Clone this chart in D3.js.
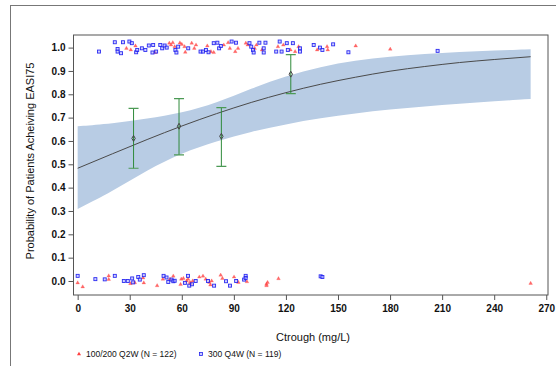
<!DOCTYPE html>
<html>
<head>
<meta charset="utf-8">
<script src="https://cdn.jsdelivr.net/npm/d3@7"></script>
<style>
  body { margin: 0; background: #fff; }
  text { font-family: "Liberation Sans", Arial, sans-serif; fill: #111; }
</style>
</head>
<body>
<div id="chart"></div>
<script>
const width = 556, height = 366;

// model prediction and 95% band (Ctrough grid)
const gridX = [0, 20, 40, 60, 80, 100, 120, 140, 160, 180, 200, 220, 240, 261];
const predP = [0.483, 0.545, 0.606, 0.664, 0.717, 0.765, 0.807, 0.843, 0.873, 0.899, 0.919, 0.936, 0.949, 0.961];
const bandLo = [0.309, 0.384, 0.475, 0.549, 0.599, 0.640, 0.672, 0.698, 0.718, 0.735, 0.748, 0.760, 0.770, 0.780];
const bandHi = [0.663, 0.675, 0.695, 0.720, 0.762, 0.825, 0.878, 0.918, 0.945, 0.962, 0.973, 0.981, 0.988, 0.993];

// observed proportions by quartile
const binX = [32.2, 58.4, 82.8, 122.8];
const binMean = [0.611, 0.663, 0.620, 0.886];
const binLo = [0.483, 0.540, 0.491, 0.803];
const binHi = [0.740, 0.781, 0.743, 0.970];

// individual responders / non-responders (jittered)
const q2wX = [28.1, 30.6, 33.3, 44.6, 52.8, 53.8, 54.8, 55.9, 58.9, 60, 61.6, 62, 65.7, 67.2, 68.2, 74.7, 76.8, 78.4,
  84.2, 86.7, 87.7, 90.8, 92.4, 96.9, 98, 102, 103, 106.2, 115.4, 118.5, 122.6, 125.3, 127.3, 138, 143.7, 144.1, 160.2, 180.1,
  0, 2.9, 17.9, 17.9, 30.4, 32.9, 37.7, 38.1, 45.8, 49.1, 53.2, 55.1, 59.3, 59.7, 60.9, 62.8, 63.6, 65.1, 64.7, 66.3,
  70.1, 72.2, 73.8, 75.9, 76.5, 77.2, 82.4, 83.4, 90.1, 92.6, 97.5, 108.8, 108.8, 109.4, 115.7, 261];
const q2wY = [0.997, 0.99, 1.007, 0.979, 1.019, 1.011, 1.021, 1.004, 1.02, 1.014, 1.004, 0.98, 1.019, 0.997, 1.011, 1.007, 0.983, 0.979,
  1.011, 1.021, 0.997, 0.983, 0.997, 1.019, 1.011, 0.997, 1.011, 0.99, 1.004, 1.011, 0.99, 0.983, 1.004, 0.99, 1.004, 0.99, 1.007, 0.993,
  -0.008, -0.025, 0.022, 0.007, -0.011, -0.007, 0.013, -0.008, -0.02, 0.008, 0.008, 0.021, -0.015, 0.008, 0.011, 0, 0.008, -0.011, -0.006, 0,
  0.017, 0.021, 0.008, -0.006, -0.017, 0, 0.025, 0.011, 0.017, -0.006, -0.003, -0.014, -0.02, -0.006, 0.01, -0.01];
const q4wX = [12.3, 21.4, 26.1, 23, 23, 25, 29.8, 31.2, 33.7, 34.3, 37, 39, 41, 43.5, 43.1, 45.2, 47.6, 48.7, 50.1, 51.3,
  56.3, 56.9, 57.9, 63.7, 70.8, 72.3, 73.9, 75.4, 78.4, 80.5, 81.5, 82.5, 88.7, 91.2, 99, 100, 101, 101.4, 104.7, 107.2,
  108.2, 107.2, 114.4, 116.4, 117.5, 120.5, 121.1, 124, 128.1, 128.1, 136, 139.6, 141, 147.2, 156, 207.4,
  0, 10.2, 15.6, 21.4, 26.6, 28.9, 31.4, 32, 34.9, 35.8, 38.1, 49.5, 51.2, 52.2, 54.1, 55.1, 55.9, 61.8, 63.6, 64.3,
  65.9, 68, 75.1, 78.6, 85.5, 87.8, 91.3, 95.9, 96.8, 96.8, 140, 141];
const q4wY = [0.983, 1.023, 1.023, 0.994, 0.983, 0.976, 1.026, 1.019, 0.98, 0.99, 0.997, 0.99, 1.009, 1.011, 0.979, 0.983, 1.011, 0.997, 1.009, 1.0,
  0.99, 0.979, 1.004, 0.997, 0.983, 0.983, 0.99, 0.98, 1.019, 1.021, 0.997, 1.007, 1.026, 1.021, 1.019, 1.004, 0.99, 0.979, 1.021, 0.997,
  1.021, 0.979, 0.983, 1.026, 0.983, 1.019, 0.99, 1.019, 0.997, 0.983, 1.011, 1.0, 0.99, 1.014, 0.98, 0.986,
  0.022, 0.008, 0.007, 0.022, 0, 0, 0.011, -0.006, 0.017, 0.006, 0.025, 0.022, 0.015, -0.004, 0.006, -0.001, 0.001, -0.008, 0.022, -0.02,
  -0.014, 0, 0, -0.02, -0.001, -0.02, 0, 0.006, 0.022, 0.013, 0.02, 0.017];

const xTicks = [0, 30, 60, 90, 120, 150, 180, 210, 240, 270];
const yTicks = [0, 0.1, 0.2, 0.3, 0.4, 0.5, 0.6, 0.7, 0.8, 0.9, 1.0];
const legendLabels = ["100/200 Q2W (N = 122)", "300 Q4W (N = 119)"];

const plot = { left: 73.5, right: 548, top: 35, bottom: 295 };

let svg = d3.select("#chart").append("svg")
  .attr("width", width)
  .attr("height", height);

// outer frame
svg.append("rect")
  .attr("x", 10.5).attr("y", 5.5)
  .attr("width", 560).attr("height", 380)
  .attr("fill", "none").attr("stroke", "#777").attr("stroke-width", 1);

let x = d3.scaleLinear().domain([-2.4, 271]).range([plot.left, plot.right]);
let y = d3.scaleLinear().domain([-0.06, 1.054]).range([plot.bottom, plot.top]);

svg.append("clipPath").attr("id", "clip")
  .append("rect")
  .attr("x", plot.left).attr("y", plot.top)
  .attr("width", plot.right - plot.left).attr("height", plot.bottom - plot.top);

let g = svg.append("g").attr("clip-path", "url(#clip)");

// confidence band
let grid = gridX.map((d, i) => ({ x: d, p: predP[i], lo: bandLo[i], hi: bandHi[i] }));
g.append("path")
  .datum(grid)
  .attr("fill", "#b8cce4")
  .attr("d", d3.area().curve(d3.curveBasis)
    .x(d => x(d.x)).y0(d => y(d.lo)).y1(d => y(d.hi)));

g.append("path")
  .datum(grid)
  .attr("fill", "none")
  .attr("stroke", "#4a4a4a")
  .attr("stroke-width", 1)
  .attr("d", d3.line().curve(d3.curveMonotoneX).x(d => x(d.x)).y(d => y(d.p)));

// error bars
let bins = binX.map((d, i) => ({ x: d, m: binMean[i], lo: binLo[i], hi: binHi[i] }));
let eb = g.selectAll(".eb").data(bins).enter().append("g");
eb.append("line")
  .attr("x1", d => x(d.x)).attr("x2", d => x(d.x))
  .attr("y1", d => y(d.lo)).attr("y2", d => y(d.hi))
  .attr("stroke", "#2f8a3a").attr("stroke-width", 1);
eb.selectAll(".cap").data(d => [[d.x, d.lo], [d.x, d.hi]]).enter().append("line")
  .attr("x1", d => x(d[0]) - 5).attr("x2", d => x(d[0]) + 5)
  .attr("y1", d => y(d[1])).attr("y2", d => y(d[1]))
  .attr("stroke", "#4c9a55").attr("stroke-width", 1.2);
eb.append("path")
  .attr("d", d3.symbol().type(d3.symbolDiamond).size(10))
  .attr("transform", d => `translate(${x(d.x)},${y(d.m)})`)
  .attr("fill", "none").attr("stroke", "#444").attr("stroke-width", 1);

// observed points
g.selectAll(".q2w").data(q2wX).enter().append("path")
  .attr("d", d3.symbol().type(d3.symbolTriangle).size(6))
  .attr("transform", (d, i) => `translate(${x(d)},${y(q2wY[i])})`)
  .attr("fill", "#ff5050").attr("fill-opacity", 0.85)
  .attr("stroke", "#ff3030").attr("stroke-opacity", 0.4).attr("stroke-width", 0.5);

g.selectAll(".q4w").data(q4wX).enter().append("rect")
  .attr("x", d => x(d) - 1.5).attr("y", (d, i) => y(q4wY[i]) - 1.5)
  .attr("width", 3).attr("height", 3)
  .attr("fill", "#b0b0ff").attr("fill-opacity", 0.6)
  .attr("stroke", "#1a1af0").attr("stroke-opacity", 0.9).attr("stroke-width", 0.9);

// plot frame
svg.append("rect")
  .attr("x", plot.left).attr("y", plot.top)
  .attr("width", plot.right - plot.left).attr("height", plot.bottom - plot.top)
  .attr("fill", "none").attr("stroke", "#555").attr("stroke-width", 1);

// axes
let xAxis = svg.append("g")
  .attr("transform", `translate(0,${plot.bottom})`)
  .call(d3.axisBottom(x).tickValues(xTicks).tickSize(5).tickPadding(5).tickFormat(d3.format("d")));
let yAxis = svg.append("g")
  .attr("transform", `translate(${plot.left},0)`)
  .call(d3.axisLeft(y).tickValues(yTicks).tickSize(5).tickPadding(3).tickFormat(d3.format(".1f")));
[xAxis, yAxis].forEach(a => {
  a.select(".domain").remove();
  a.selectAll(".tick line").attr("stroke", "#555");
  a.selectAll(".tick text")
    .style("font-family", "'Liberation Sans', Arial, sans-serif")
    .style("font-size", "10px").style("font-weight", "bold").attr("fill", "#111");
});

// axis titles
svg.append("text")
  .attr("x", 313).attr("y", 341)
  .style("text-anchor", "middle").style("font-size", "11px")
  .text("Ctrough (mg/L)");

svg.append("text")
  .attr("transform", `translate(34, 161) rotate(-90)`)
  .style("text-anchor", "middle").style("font-size", "11px")
  .text("Probability of Patients Acheiving EASI75");

// legend
let legend = svg.append("g").attr("transform", "translate(79, 354)");
legend.append("path")
  .attr("d", d3.symbol().type(d3.symbolTriangle).size(7))
  .attr("fill", "#ff4040");
legend.append("text").attr("x", 7).attr("y", 3)
  .style("font-size", "8.5px").text(legendLabels[0]);
legend.append("rect")
  .attr("x", 120.5).attr("y", -1.5).attr("width", 3).attr("height", 3)
  .attr("fill", "#ccccff").attr("stroke", "#2323ee").attr("stroke-width", 0.8);
legend.append("text").attr("x", 129).attr("y", 3)
  .style("font-size", "8.5px").text(legendLabels[1]);
</script>
</body>
</html>
